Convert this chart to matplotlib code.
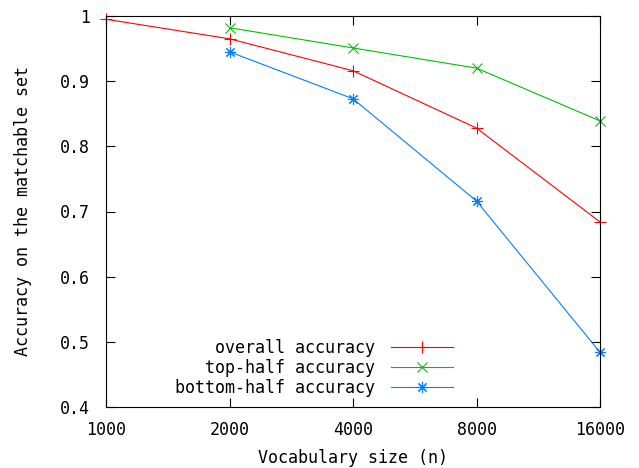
import matplotlib
matplotlib.use("Agg")
from matplotlib import pyplot as plt

# Datos
vocab = [1000, 2000, 4000, 8000, 16000]
vocab_half = [2000, 4000, 8000, 16000]
overall = [0.995, 0.965, 0.916, 0.828, 0.684]
top_half = [0.982, 0.951, 0.920, 0.839]
bottom_half = [0.945, 0.873, 0.716, 0.484]
xtick_labels = ["1000", "2000", "4000", "8000", "16000"]
yticks = [0.4, 0.5, 0.6, 0.7, 0.8, 0.9, 1.0]
ytick_labels = ["0.4", "0.5", "0.6", "0.7", "0.8", "0.9", "1"]

plt.rcParams['font.family'] = ['DejaVu Sans Mono']
plt.rcParams['font.size'] = 12

fig = plt.figure(figsize=(6.39, 4.68), dpi=100)
ax = fig.add_axes([106/639, 61/468, 494/639, 391/468])

ax.plot(vocab, overall, color="#ff0000", lw=0.8, marker="+", ms=8, mew=0.8,
        label="   overall accuracy", clip_on=False)
ax.plot(vocab_half, top_half, color="#00c000", lw=0.8, marker="x", ms=7, mew=0.8,
        label="   top-half accuracy", clip_on=False)
ax.plot(vocab_half, bottom_half, color="#0080ff", lw=0.8, marker=(8, 2, 0), ms=8, mew=0.8,
        label="bottom-half accuracy", clip_on=False)

ax.set_xscale("log", base=2)
ax.set_xlim(1000, 16000)
ax.set_ylim(0.4, 1.0)
ax.set_xticks(vocab)
ax.set_xticklabels(xtick_labels)
ax.minorticks_off()
ax.set_yticks(yticks)
ax.set_yticklabels(ytick_labels)
ax.tick_params(direction="in", length=6.5, width=0.8, top=True, right=True)
ax.tick_params(axis="y", pad=11.5)
ax.tick_params(axis="x", pad=10)
for s in ax.spines.values():
    s.set_linewidth(0.8)

ax.set_xlabel("Vocabulary size (n)", labelpad=7)
ax.set_ylabel("Accuracy on the matchable set", labelpad=20)

ax.legend(loc="lower right", bbox_to_anchor=(0.726, -0.005), frameon=False,
          markerfirst=False, handlelength=3.7, handletextpad=1.0,
          labelspacing=0.12, borderaxespad=0.3)

fig.savefig("out.png", dpi=100)
